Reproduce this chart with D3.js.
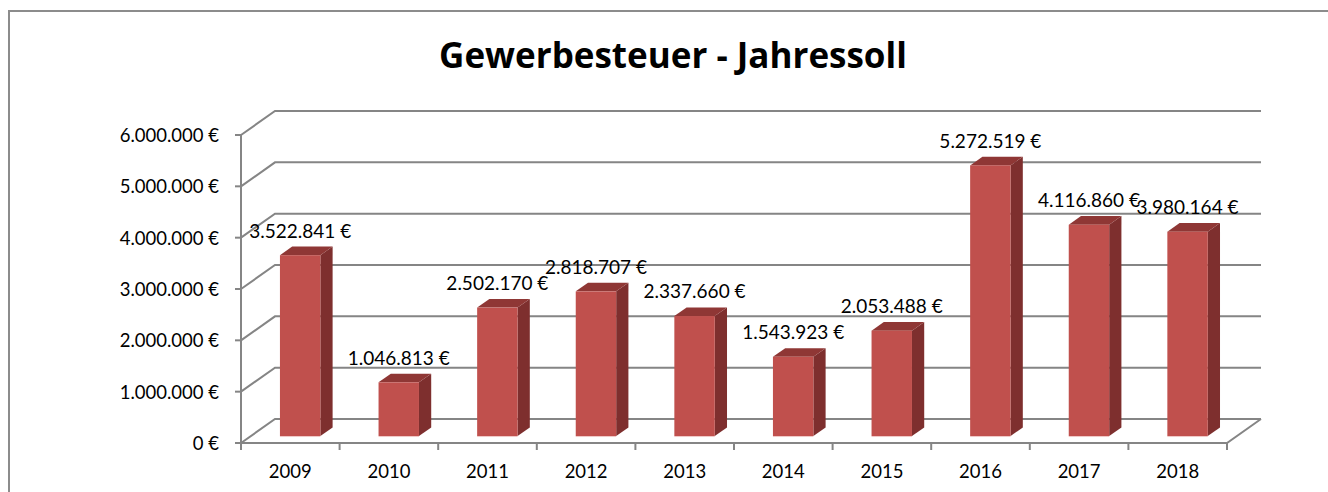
<!DOCTYPE html>
<html>
<head>
<meta charset="utf-8">
<style>
  body { margin: 0; background: #fff; }
  text { font-family: Lato, "Open Sans", sans-serif; fill: #000; }
</style>
<title>Gewerbesteuer - Jahressoll</title>
</head>
<body>
<script src="https://cdn.jsdelivr.net/npm/d3@7"></script>
<script>
  // data
  var years = ["2009", "2010", "2011", "2012", "2013", "2014", "2015", "2016", "2017", "2018"];
  var values = [3522841, 1046813, 2502170, 2818707, 2337660, 1543923, 2053488, 5272519, 4116860, 3980164];
  var yTicks = [0, 1000000, 2000000, 3000000, 4000000, 5000000, 6000000];

  var W = 1328, H = 492;
  // front plane of the 3d box
  var plotLeft = 241, plotRight = 1227, plotBottom = 443, plotTop = 135;
  // full depth offset of the box
  var depth = {dx: 34, dy: -24};
  var f0 = 0.29, f1 = 0.65;   // bar front / back depth fraction
  var gridColor = "#858585";

  var x = d3.scaleBand().domain(years).range([plotLeft, plotRight]).paddingInner(0).paddingOuter(0);
  var y = d3.scaleLinear().domain([0, 6000000]).range([plotBottom, plotTop]);

  var fmt = d3.formatLocale({decimal: ",", thousands: ".", grouping: [3], currency: ["", " €"]}).format(",d");
  var euro = function(v) { return fmt(v) + " €"; };

  var svg = d3.select("body").append("svg")
    .attr("width", W)
    .attr("height", H);

  // chart border
  svg.append("rect")
    .attr("x", 9).attr("y", 11)
    .attr("width", W + 20).attr("height", H + 20)
    .attr("fill", "none")
    .attr("stroke", "#8c8c8c")
    .attr("stroke-width", 2);

  // title
  svg.append("text")
    .attr("x", 673)
    .attr("y", 68)
    .attr("text-anchor", "middle")
    .style("font-family", "'Open Sans', sans-serif")
    .style("font-size", "35px")
    .style("font-weight", "bold")
    .text("Gewerbesteuer - Jahressoll");

  var grid = svg.append("g").attr("id", "grid")
    .attr("stroke", gridColor).attr("stroke-width", 2).attr("fill", "none");

  // back wall gridlines + side wall diagonals
  yTicks.forEach(function(t) {
    var yy = y(t);
    grid.append("path")
      .attr("d", "M" + plotLeft + "," + yy + "L" + (plotLeft + depth.dx) + "," + (yy + depth.dy) +
                 "L" + (plotRight + depth.dx) + "," + (yy + depth.dy));
  });

  // floor front edge + right diagonal
  grid.append("path")
    .attr("d", "M" + plotLeft + "," + plotBottom + "L" + plotRight + "," + plotBottom +
               "L" + (plotRight + depth.dx) + "," + (plotBottom + depth.dy));

  // y axis line
  grid.append("line")
    .attr("x1", plotLeft).attr("x2", plotLeft)
    .attr("y1", y(6000000)).attr("y2", plotBottom);

  // y ticks + labels
  var yAxis = svg.append("g").attr("id", "y_axis");
  yAxis.selectAll("line").data(yTicks).enter().append("line")
    .attr("x1", plotLeft - 6).attr("x2", plotLeft)
    .attr("y1", function(d) { return y(d); })
    .attr("y2", function(d) { return y(d); })
    .attr("stroke", gridColor).attr("stroke-width", 2);
  yAxis.selectAll("text").data(yTicks).enter().append("text")
    .attr("x", 219)
    .attr("y", function(d) { return y(d) + 7; })
    .attr("text-anchor", "end")
    .style("font-size", "18.5px")
    .text(euro);

  // x ticks + labels
  var xAxis = svg.append("g").attr("id", "x_axis");
  var bounds = years.map(function(d) { return x(d); }).concat([plotRight]);
  xAxis.selectAll("line").data(bounds).enter().append("line")
    .attr("x1", function(d) { return d; }).attr("x2", function(d) { return d; })
    .attr("y1", plotBottom).attr("y2", plotBottom + 7)
    .attr("stroke", gridColor).attr("stroke-width", 2);
  xAxis.selectAll("text").data(years).enter().append("text")
    .attr("x", function(d) { return x(d) + x.bandwidth() / 2; })
    .attr("y", 478)
    .attr("text-anchor", "middle")
    .style("font-size", "18.5px")
    .text(function(d) { return d; });

  // 3d bars
  var barW = x.bandwidth() * 0.41;
  var sx = depth.dx * f0, sy = depth.dy * f0;
  var ex = depth.dx * (f1 - f0), ey = depth.dy * (f1 - f0);
  var data = years.map(function(d, i) { return {year: d, value: values[i]}; });

  var bars = svg.append("g").attr("id", "bars").selectAll("g").data(data).enter().append("g");

  function fx(d) { return x(d.year) + (x.bandwidth() - barW) / 2 + sx; }
  function fy(d) { return y(d.value) + sy; }
  var fb = plotBottom + sy;

  // side face
  bars.append("path")
    .attr("fill", "#7e2f2e")
    .attr("d", function(d) {
      var x1 = fx(d) + barW, t = fy(d);
      return "M" + x1 + "," + t + "L" + (x1 + ex) + "," + (t + ey) +
             "L" + (x1 + ex) + "," + (fb + ey) + "L" + x1 + "," + fb + "Z";
    });
  // top face
  bars.append("path")
    .attr("fill", "#8f3735")
    .attr("d", function(d) {
      var x0 = fx(d), t = fy(d);
      return "M" + x0 + "," + t + "L" + (x0 + ex) + "," + (t + ey) +
             "L" + (x0 + barW + ex) + "," + (t + ey) + "L" + (x0 + barW) + "," + t + "Z";
    });
  // front face
  bars.append("rect")
    .attr("x", fx)
    .attr("y", fy)
    .attr("width", barW)
    .attr("height", function(d) { return fb - fy(d); })
    .attr("fill", "#c0504d");
  // faint light edge at bottom
  bars.append("line")
    .attr("x1", fx).attr("x2", function(d) { return fx(d) + barW; })
    .attr("y1", fb + 0.5).attr("y2", fb + 0.5)
    .attr("stroke", "#f0c8c7").attr("stroke-width", 1);

  // data labels
  svg.append("g").attr("id", "labels").selectAll("text").data(data).enter().append("text")
    .attr("x", function(d) { return fx(d) + barW / 2; })
    .attr("y", function(d) { return fy(d) + ey - 9; })
    .attr("text-anchor", "middle")
    .style("font-size", "19px")
    .text(function(d) { return euro(d.value); });
</script>
</body>
</html>
